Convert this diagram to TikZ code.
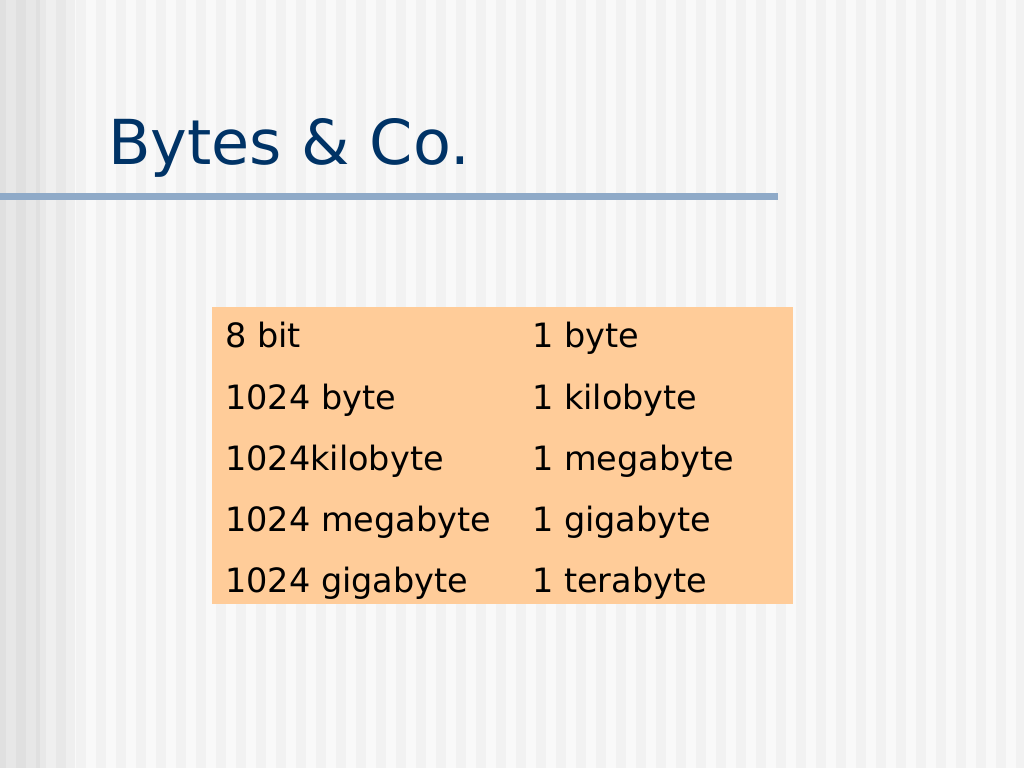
\documentclass[tikz,border=0pt]{standalone}
\usepackage{fontspec}
\setmainfont{DejaVu Sans}
\definecolor{bgbase}{RGB}{242,242,242}
\definecolor{stripe}{RGB}{249,249,249}
\definecolor{titleblue}{RGB}{0,51,102}
\definecolor{rule}{RGB}{143,170,200}
\definecolor{cell}{RGB}{255,204,153}
\begin{document}
\begin{tikzpicture}[x=1pt,y=-1pt,
  cellt/.style={anchor=base west,inner sep=0pt,font=\fontsize{33.5}{38}\selectfont,text=black}]
\useasboundingbox (0,0) rectangle (1024,768);
\fill[bgbase] (0,0) rectangle (1024,768);
\foreach \x in {0,20,...,1020} {\fill[stripe] (\x+6,0) rectangle (\x+16,768);}
\fill[black,opacity=0.04] (0,0) rectangle (75,768);
\fill[black,opacity=0.03] (0,0) rectangle (40,768);
\node[anchor=base west,inner sep=0pt,text=titleblue,font=\fontsize{62}{70}\selectfont] (title) at (108,164) {Bytes \& Co.};
\fill[rule] (0,192.5) rectangle (778,199.5);
\fill[cell] (212,307) rectangle (793,604);
\foreach \a/\b/\y [count=\i] in {8 bit/1 byte/347,1024 byte/1 kilobyte/409,1024kilobyte/1 megabyte/470,1024 megabyte/1 gigabyte/531,1024 gigabyte/1 terabyte/592}{
  \node[cellt] (l\i) at (225,\y) {\a};
  \node[cellt] (r\i) at (532,\y) {\b};
}
\end{tikzpicture}
\end{document}
